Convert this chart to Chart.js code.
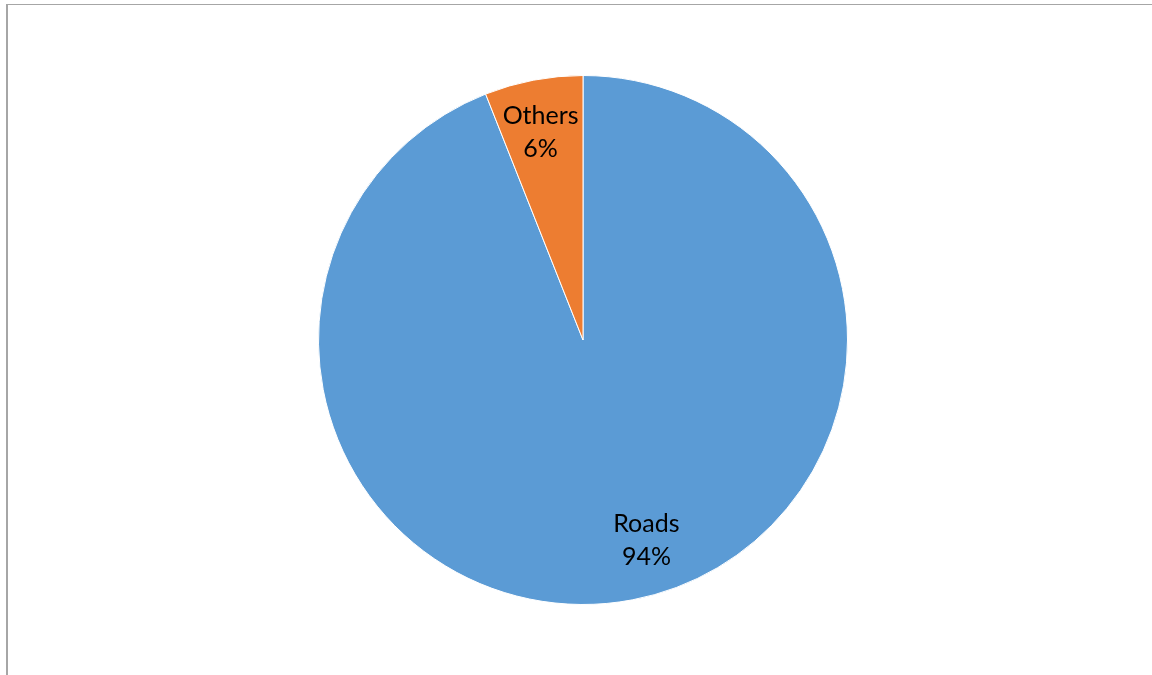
<!DOCTYPE html>
<html>
<head>
<meta charset="utf-8">
<script src="https://cdn.jsdelivr.net/npm/chart.js@4"></script>
<style>
  html, body { margin: 0; padding: 0; background: #fff; }
  #wrap { position: relative; width: 1152px; height: 675px; overflow: hidden; }
  #frame { position: absolute; left: 6px; top: 4px; right: -2px; bottom: -2px;
           border-top: 1px solid #a6a6a6; border-left: 2px solid #a6a6a6; }
  canvas { position: absolute; left: 0; top: 0; }
</style>
</head>
<body>
<div id="wrap">
  <div id="frame"></div>
  <canvas id="chart" width="1152" height="675"></canvas>
</div>
<script>
// Share of transport by mode
const categories = ['Roads', 'Others'];
const shares = [94, 6];
const sliceColors = ['#5B9BD5', '#ED7D31'];

// Category name and percentage written inside each slice
const sliceLabels = {
  id: 'sliceLabels',
  afterDatasetsDraw(chart, args, opts) {
    const { ctx } = chart;
    const meta = chart.getDatasetMeta(0);
    const total = shares.reduce((a, b) => a + b, 0);
    const nudge = opts.nudge || [];
    ctx.save();
    ctx.font = opts.font;
    ctx.fillStyle = '#000';
    ctx.textAlign = 'center';
    ctx.textBaseline = 'middle';
    meta.data.forEach((arc, i) => {
      const { x, y, startAngle, endAngle, outerRadius } = arc.getProps(['x', 'y', 'startAngle', 'endAngle', 'outerRadius'], true);
      const mid = (startAngle + endAngle) / 2;
      const r = outerRadius * opts.radiusFraction;
      const [nx, ny] = nudge[i] || [0, 0];
      const cx = x + Math.cos(mid) * r + nx;
      const cy = y + Math.sin(mid) * r + ny;
      const pct = Math.round(shares[i] / total * 100) + '%';
      ctx.fillText(categories[i], cx, cy - 16);
      ctx.fillText(pct, cx, cy + 17);
    });
    ctx.restore();
  }
};

new Chart(document.getElementById('chart'), {
  type: 'pie',
  data: {
    labels: categories,
    datasets: [{
      data: shares,
      backgroundColor: sliceColors,
      borderColor: '#ffffff',
      borderWidth: 1
    }]
  },
  options: {
    responsive: false,
    animation: false,
    layout: { padding: { top: 75, bottom: 70, left: 14, right: 0 } },
    plugins: {
      legend: { display: false },
      tooltip: { enabled: false },
      sliceLabels: {
        font: '25px Lato',
        radiusFraction: 0.795,
        nudge: [[24, -7], [-3, -2]]
      }
    }
  },
  plugins: [sliceLabels]
});
</script>
</body>
</html>
